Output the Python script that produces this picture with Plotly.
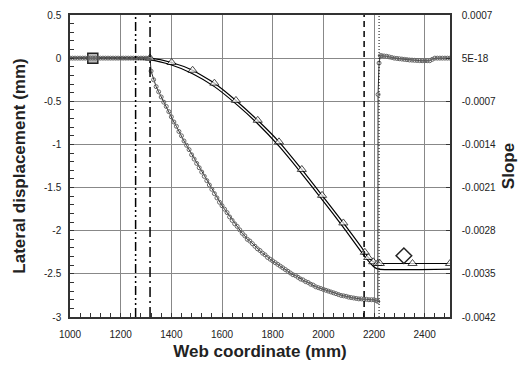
import plotly.graph_objects as go

# ---------------- data ----------------
# slope series (right axis), x in mm, values in units of 1e-4
slope_x = [1000, 1010, 1020, 1030, 1040, 1050, 1060, 1070, 1080, 1090, 1100, 1110, 1120, 1130, 1140, 1150,
           1160, 1170, 1180, 1190, 1200, 1210, 1220, 1230, 1240, 1250, 1260, 1270, 1280, 1290, 1300, 1310, 1316,
           1320, 1330, 1340, 1350, 1360, 1370, 1380, 1390, 1400, 1410, 1420, 1430, 1440, 1450, 1460, 1470,
           1480, 1490, 1500, 1510, 1520, 1530, 1540, 1550, 1560, 1570, 1580, 1590, 1600, 1610, 1620, 1630,
           1640, 1650, 1660, 1670, 1680, 1690, 1700, 1710, 1720, 1730, 1740, 1750, 1760, 1770, 1780, 1790,
           1800, 1810, 1820, 1830, 1840, 1850, 1860, 1870, 1880, 1890, 1900, 1910, 1920, 1930, 1940, 1950,
           1960, 1970, 1980, 1990, 2000, 2010, 2020, 2030, 2040, 2050, 2060, 2070, 2080, 2090, 2100, 2110,
           2120, 2130, 2140, 2150, 2160, 2170, 2180, 2190, 2200, 2210, 2215, 2216, 2220, 2225,
           2230, 2240, 2250, 2260, 2270, 2280, 2290, 2300, 2310, 2320, 2330, 2340, 2350, 2360, 2370, 2380,
           2390, 2400, 2410, 2420, 2430, 2440, 2450, 2460, 2470, 2480, 2490, 2500]
slope_e4 = [0, 0, 0, 0, 0, 0, 0, 0, 0, 0, 0, 0, 0, 0, 0, 0,
            0, 0, 0, 0, 0, 0, 0, 0, 0, 0, 0, 0, 0, 0, 0, 0, 0,
            -2.1, -3.5, -4.62, -5.46, -6.3, -7.14, -7.84, -8.68, -9.52, -10.36, -11.06, -11.9, -12.6, -13.44, -14.14, -14.84,
            -15.68, -16.38, -17.08, -17.78, -18.48, -19.18, -19.88, -20.58, -21.28, -21.98, -22.68, -23.38, -23.94, -24.5, -25.06, -25.76,
            -26.32, -26.88, -27.3, -27.86, -28.42, -28.84, -29.4, -29.68, -30.1, -30.52, -30.94, -31.22, -31.64, -31.92, -32.34, -32.62,
            -32.9, -33.18, -33.46, -33.74, -34.02, -34.3, -34.58, -34.86, -35.14, -35.28, -35.56, -35.84, -35.98, -36.26, -36.4, -36.68,
            -36.82, -37.1, -37.24, -37.38, -37.52, -37.66, -37.8, -37.94, -38.08, -38.22, -38.36, -38.5, -38.57, -38.64, -38.78, -38.85,
            -38.92, -38.99, -39.06, -39.06, -39.13, -39.13, -39.2, -39.2, -39.2, -39.34, -39.48, -5.9, -0.8, 0.4,
            0.4, 0.35, 0.3, 0.2, 0.1, 0, -0.05, -0.1, -0.15, -0.2, -0.25, -0.3, -0.32, -0.35, -0.38, -0.4,
            -0.42, -0.42, -0.42, -0.42, -0.2, 0, 0, 0, 0, 0, 0, 0]

# lateral displacement (left axis), series with triangles
disp_x = [1000, 1316, 1401, 1484, 1570, 1655, 1741, 1825, 1915, 1995, 2079, 2164, 2177, 2197, 2214, 2223, 2352, 2500]
disp_y = [0, 0, -0.05, -0.14, -0.29, -0.49, -0.72, -0.97, -1.29, -1.59, -1.91, -2.25, -2.31, -2.36, -2.38, -2.38, -2.38, -2.38]

# companion displacement line (no markers)
disp2_x = [1000, 1316, 1401, 1484, 1570, 1655, 1741, 1825, 1915, 1995, 2079, 2164, 2200, 2218, 2500]
disp2_y = [0, -0.02, -0.08, -0.18, -0.33, -0.53, -0.76, -1.02, -1.34, -1.64, -1.96, -2.30, -2.42, -2.445, -2.445]

# single measured points
square_x, square_y = [1090], [0]
diamond_x, diamond_y = [2318], [-2.29]

# vertical reference lines (mm)
vline_dashdotdot = 1259
vline_dashdot = 1316
vline_dash = 2161
vline_dot = 2220

# tick labels
left_ticks = [0.5, 0, -0.5, -1, -1.5, -2, -2.5, -3]
left_ticktext = ["0.5", "0", "-0.5", "-1", "-1.5", "-2", "-2.5", "-3"]
right_ticks = [0.0007, 0, -0.0007, -0.0014, -0.0021, -0.0028, -0.0035, -0.0042]
right_ticktext = ["0.0007", "5E-18", "-0.0007", "-0.0014", "-0.0021", "-0.0028", "-0.0035", "-0.0042"]

# ---------------- figure ----------------
slope = [v * 1e-4 for v in slope_e4]
fig = go.Figure()

fig.add_trace(go.Scatter(
    x=slope_x, y=slope, yaxis="y2", mode="lines+markers",
    line=dict(color="#333333", width=1),
    marker=dict(symbol="circle-open", size=4, color="#666666", line=dict(width=1)),
    showlegend=False))

fig.add_trace(go.Scatter(
    x=disp2_x, y=disp2_y, mode="lines",
    line=dict(color="black", width=1.2, shape="spline", smoothing=0.5),
    showlegend=False))

sizes = [0] + [8] * (len(disp_x) - 1)
fig.add_trace(go.Scatter(
    x=disp_x, y=disp_y, mode="lines+markers",
    line=dict(color="black", width=1.2, shape="spline", smoothing=0.5),
    marker=dict(symbol="triangle-up", size=sizes, color="white", line=dict(color="black", width=1)),
    showlegend=False))

fig.add_trace(go.Scatter(
    x=square_x, y=square_y, mode="markers",
    marker=dict(symbol="square", size=10, color="#bbbbbb", line=dict(color="#222222", width=1.5)),
    showlegend=False))

fig.add_trace(go.Scatter(
    x=diamond_x, y=diamond_y, mode="markers",
    marker=dict(symbol="diamond", size=12, color="white", line=dict(color="#222222", width=1.5)),
    showlegend=False))

def vline(x, dash, width):
    fig.add_shape(type="line", xref="x", yref="paper", x0=x, x1=x, y0=0, y1=1,
                  line=dict(color="black", width=width, dash=dash))

vline(vline_dashdotdot, "9px,3px,2px,3px,2px,3px", 1.5)
vline(vline_dashdot, "10px,4px,2px,4px", 1.5)
vline(vline_dash, "6px,4px", 1.5)
vline(vline_dot, "1px,2px", 1)

tickfont = dict(family="Liberation Sans, Arial, sans-serif", size=10, color="#222222")
titlefont = dict(family="Liberation Sans, Arial, sans-serif", size=17, color="#222222", weight="bold")

fig.update_layout(
    width=518, height=367,
    margin=dict(l=70, r=68, t=15, b=50, autoexpand=False),
    paper_bgcolor="white", plot_bgcolor="white",
    xaxis=dict(
        range=[1000, 2500], dtick=200, tick0=1000, automargin=False,
        showgrid=True, gridcolor="#888888", gridwidth=1,
        ticks="inside", ticklen=4, tickcolor="#333333",
        minor=dict(dtick=40, tick0=1000, ticks="inside", ticklen=4, tickcolor="#333333", showgrid=False),
        showline=True, linecolor="#333333", linewidth=1.5, mirror=True,
        zeroline=False, tickfont=tickfont, ticklabelstandoff=7,
        title=dict(text="Web coordinate (mm)", font=titlefont, standoff=6)),
    yaxis=dict(
        range=[-3, 0.5], tickvals=left_ticks, ticktext=left_ticktext, automargin=False,
        showgrid=True, gridcolor="#888888", gridwidth=1,
        ticks="inside", ticklen=4, tickcolor="#333333",
        minor=dict(dtick=0.1, ticks="inside", ticklen=4, tickcolor="#333333", showgrid=False),
        showline=True, linecolor="#333333", linewidth=1.5, mirror=True,
        zeroline=False, tickfont=tickfont, ticklabelstandoff=5,
        title=dict(text="Lateral displacement (mm)", font=titlefont, standoff=14)),
    yaxis2=dict(
        range=[-0.0042, 0.0007], overlaying="y", side="right", automargin=False,
        tickvals=right_ticks, ticktext=right_ticktext,
        showgrid=False, ticks="inside", ticklen=4, tickcolor="#333333",
        showline=True, linecolor="#333333", linewidth=1.5,
        zeroline=False, tickfont=tickfont, ticklabelstandoff=8,
        title=dict(text="Slope", font=titlefont, standoff=12)),
)

fig.write_html("out.html")
